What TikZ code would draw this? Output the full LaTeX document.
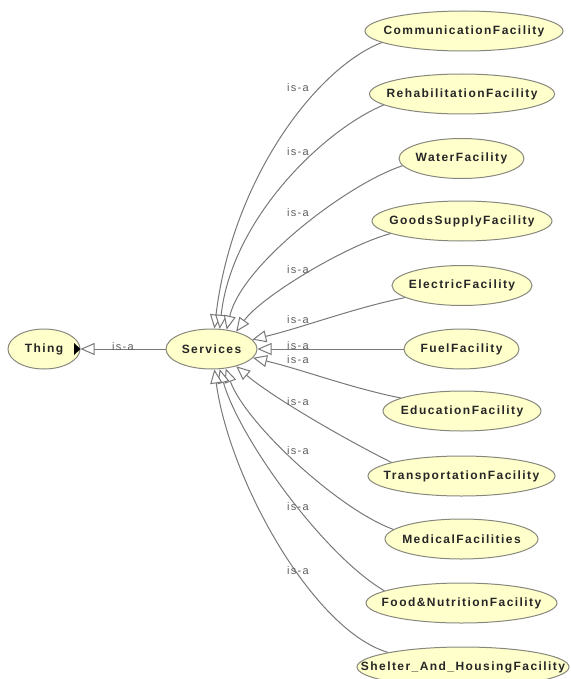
\documentclass[tikz,border=0pt]{standalone}
\usepackage{fontspec}
\setmainfont{Liberation Sans}
\newfontfamily\spaced[LetterSpace=12]{Liberation Sans}
\usetikzlibrary{arrows.meta,shapes.geometric}
\definecolor{nodefill}{RGB}{255,255,204}
\definecolor{nodedraw}{RGB}{135,135,125}
\definecolor{edgecol}{RGB}{120,120,120}
\definecolor{lblcol}{RGB}{95,95,95}
\newcommand{\zw}[1]{\makebox[0pt]{#1}}
\begin{document}
\begin{tikzpicture}[x=1pt,y=-1pt,
  cls/.style={ellipse, draw=nodedraw, fill=nodefill, line width=1pt, minimum height=40pt, minimum width=#1, inner sep=0pt, font=\spaced\bfseries\fontsize{12}{14}\selectfont, text=black!85},
  isa/.style={font=\spaced\fontsize{11}{13}\selectfont, text=lblcol, inner sep=0pt},
  edge/.style={draw=edgecol, line width=1pt, -{Triangle[length=14pt,width=12pt,fill=white,line width=1pt]}}
]
\useasboundingbox (0,0) rectangle (570,679);

\node[cls=72pt] (thing) at (44,349) {\zw{Thing}};
\node[cls=91pt] (svc) at (211.5,349) {\zw{Services}};

\node[cls=198pt] (comm) at (464,31) {\zw{CommunicationFacility}};
\node[cls=185pt] (rehab) at (462,94) {\zw{RehabilitationFacility}};
\node[cls=125pt] (water) at (461.5,158.5) {\zw{WaterFacility}};
\node[cls=180pt] (goods) at (462,221) {\zw{GoodsSupplyFacility}};
\node[cls=140pt] (elec) at (462,285.5) {\zw{ElectricFacility}};
\node[cls=115pt] (fuel) at (461.5,349) {\zw{FuelFacility}};
\node[cls=158pt] (edu) at (462,411) {\zw{EducationFacility}};
\node[cls=187pt] (trans) at (461.5,476) {\zw{TransportationFacility}};
\node[cls=153pt] (med) at (461.5,539) {\zw{MedicalFacilities}};
\node[cls=191pt] (food) at (461.5,603) {\zw{Food\&NutritionFacility}};
\node[cls=212pt] (shelter) at (463,667) {\zw{Shelter\_And\_HousingFacility}};

\fill[black] (74,343) -- (80.5,349) -- (74,355) -- cycle;

\draw[edge] (svc.west) -- (thing.east);
\draw[edge] (comm.188) .. controls +(-65,25) and +(18,-150) .. (svc.82);
\draw[edge] (rehab.188) .. controls +(-60,25) and +(12,-110) .. (svc.68);
\draw[edge] (water.187) .. controls +(-55,18) and +(15,-65) .. (svc.52);
\draw[edge] (goods.190) .. controls +(-45,12) and +(25,-35) .. (svc.35);
\draw[edge] (elec.192) .. controls +(-50,10) and +(50,-12) .. (svc.13);
\draw[edge] (fuel.west) -- (svc.east);
\draw[edge] (edu.168) .. controls +(-50,-10) and +(50,12) .. (svc.-12);
\draw[edge] (trans.169.5) .. controls +(-50,-25) and +(35,30) .. (svc.-35);
\draw[edge] (med.172) .. controls +(-55,-20) and +(20,55) .. (svc.-54);
\draw[edge] (food.171) .. controls +(-60,-35) and +(20,70) .. (svc.-68);
\draw[edge] (shelter.169) .. controls +(-75,-22) and +(15,110) .. (svc.-82);

\node[isa] (l0) at (123,347) {is-a};
\node[isa] (l1) at (298,88) {is-a};
\node[isa] (l2) at (298,152) {is-a};
\node[isa] (l3) at (298,213) {is-a};
\node[isa] (l4) at (298,270) {is-a};
\node[isa] (l5) at (298,320) {is-a};
\node[isa] (l6) at (298,346) {is-a};
\node[isa] (l7) at (298,360) {is-a};
\node[isa] (l8) at (298,402) {is-a};
\node[isa] (l9) at (298,451) {is-a};
\node[isa] (l10) at (298,507) {is-a};
\node[isa] (l11) at (298,571) {is-a};
\end{tikzpicture}
\end{document}
